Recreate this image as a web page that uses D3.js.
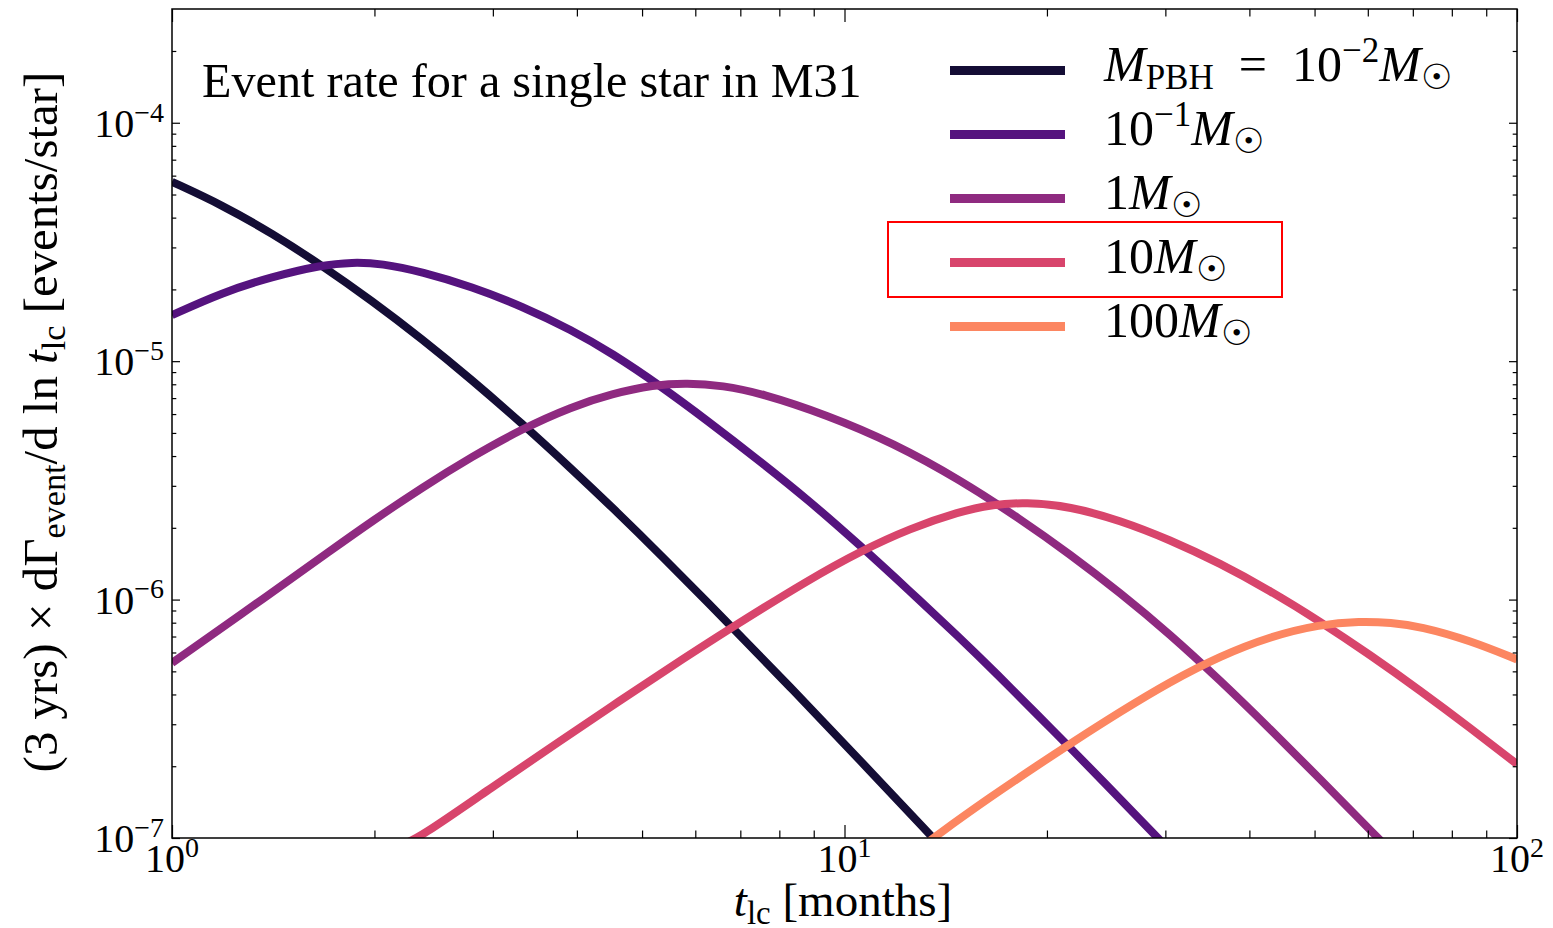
<!DOCTYPE html>
<html>
<head>
<meta charset="utf-8">
<script src="https://cdn.jsdelivr.net/npm/d3@7"></script>
<style>
body { margin: 0; background: #fff; }
svg { display: block; }
text { font-family: "Liberation Serif", "DejaVu Serif", serif; fill: #000; }
</style>
</head>
<body>
<script>

// DATA (t_lc in months, rate in events/star)
var t_m2 = [1, 1.187, 1.408, 1.671, 1.983, 2.353, 2.793, 3.314, 3.933, 4.511, 5.318, 6.83, 8.38, 10.29, 13.54, 14.3];
var r_m2 = [5.65e-5, 4.52e-5, 3.44e-5, 2.52e-5, 1.79e-5, 1.24e-5, 8.34e-6, 5.48e-6, 3.52e-6, 2.44e-6, 1.55e-6, 7.58e-7, 4.18e-7, 2.28e-7, 1.0e-7, 8.5e-8];

var t_m1 = [1, 1.187, 1.408, 1.671, 1.852, 2.05, 2.353, 2.793, 3.314, 3.933, 4.511, 5.318, 6.27, 7.49, 8.83, 10.54, 12.44, 14.85, 16.82, 19.53, 21.64, 25.68, 29.45, 31];
var r_m1 = [1.56e-5, 1.94e-5, 2.26e-5, 2.53e-5, 2.6e-5, 2.57e-5, 2.37e-5, 2.05e-5, 1.70e-5, 1.35e-5, 1.08e-5, 7.9e-6, 5.6e-6, 3.8e-6, 2.62e-6, 1.69e-6, 1.1e-6, 6.9e-7, 4.9e-7, 3.2e-7, 2.4e-7, 1.46e-7, 9.8e-8, 8.4e-8];

var t_0 = [1, 1.408, 1.729, 1.983, 2.353, 2.793, 3.314, 3.933, 4.511, 5.2, 5.83, 6.6, 7.49, 9.42, 11.81, 14.85, 18.24, 21.64, 25.68, 30.48, 36.17, 42.93, 50.94, 62.56, 65];
var r_0 = [5.42e-7, 1.07e-6, 1.62e-6, 2.13e-6, 2.95e-6, 3.98e-6, 5.2e-6, 6.45e-6, 7.3e-6, 7.95e-6, 8.11e-6, 7.9e-6, 7.36e-6, 5.95e-6, 4.54e-6, 3.18e-6, 2.18e-6, 1.55e-6, 1.07e-6, 7.16e-7, 4.59e-7, 2.87e-7, 1.77e-7, 9.8e-8, 8.8e-8];

var t_1 = [2.2, 2.33, 2.96, 3.776, 4.511, 5.318, 6.83, 8.888, 10.54, 12.52, 14.85, 16.5, 18.6, 21.64, 25.68, 30.48, 36.17, 42.93, 50.94, 60.44, 71.75, 85.15, 100];
var r_1 = [9.4e-8, 1.0e-7, 1.6e-7, 2.55e-7, 3.58e-7, 4.88e-7, 7.71e-7, 1.22e-6, 1.59e-6, 1.99e-6, 2.34e-6, 2.5e-6, 2.56e-6, 2.46e-6, 2.15e-6, 1.78e-6, 1.42e-6, 1.09e-6, 8.1e-7, 5.87e-7, 4.16e-7, 2.9e-7, 2.04e-7];

var t_2 = [13.2, 13.54, 16.5, 19.53, 21.64, 25.68, 30.48, 36.17, 42.93, 50.94, 58.42, 65, 71.75, 85.15, 100];
var r_2 = [9.4e-8, 1.0e-7, 1.49e-7, 2.05e-7, 2.48e-7, 3.38e-7, 4.52e-7, 5.79e-7, 7.0e-7, 7.87e-7, 8.1e-7, 8.0e-7, 7.72e-7, 6.74e-7, 5.61e-7];

var seriesT = [t_m2, t_m1, t_0, t_1, t_2];
var seriesR = [r_m2, r_m1, r_0, r_1, r_2];
var colors = ["#140d35", "#55137e", "#8f2a80", "#d8456c", "#fc8661"];

// LEGEND LABELS: [text, italic, position] position 1 = superscript, -1 = subscript
var legendLabels = [
	[["M", 1, 0], ["PBH", 0, -1], ["\u2002=\u200210", 0, 0], ["\u22122", 0, 1], ["M", 1, 0], ["\u2609", 0, -1]],
	[["10", 0, 0], ["\u22121", 0, 1], ["M", 1, 0], ["\u2609", 0, -1]],
	[["1", 0, 0], ["M", 1, 0], ["\u2609", 0, -1]],
	[["10", 0, 0], ["M", 1, 0], ["\u2609", 0, -1]],
	[["100", 0, 0], ["M", 1, 0], ["\u2609", 0, -1]]
];

var titleText = "Event rate for a single star in M31";
var xLabel = [["t", 1, 0], ["lc", 0, -1], ["\u00a0[months]", 0, 0]];
var yLabel = [["(3\u00a0yrs)\u00a0\u00d7\u00a0d\u0393", 0, 0], ["event", 0, -1], ["/d\u00a0ln\u00a0", 0, 0], ["t", 1, 0], ["lc", 0, -1], ["\u00a0[events/star]", 0, 0]];

// TICKS
var xMajor = [1, 10, 100];
var xMinor = [2, 3, 4, 5, 6, 7, 8, 9, 20, 30, 40, 50, 60, 70, 80, 90];
var yMajor = [1e-7, 1e-6, 1e-5, 1e-4];
var yMinor = [];
[1e-7, 1e-6, 1e-5].forEach(function(dec){
	for (var k = 2; k <= 9; k++) yMinor.push(k * dec);
});
yMinor.push(2e-4);

var W = 1553, H = 928;
var L = 172, R = 1517, T = 9, B = 838;

var svg = d3.select("body").append("svg")
	.attr("width", W)
	.attr("height", H);

var x = d3.scaleLog().domain([1, 100]).range([L, R]);
var y = d3.scaleLog().domain([1e-7, 3e-4]).range([B, T]);

svg.append("clipPath").attr("id", "plotclip")
	.append("rect")
	.attr("x", L).attr("y", T)
	.attr("width", R - L).attr("height", B - T);

//DRAW THE CURVES
var line = d3.line()
	.x(function(d){ return x(d.t) })
	.y(function(d){ return y(d.v) })
	.curve(d3.curveBasis);

seriesT.forEach(function(ts, i){
	var pts = ts.map(function(t, j){ return {t: t, v: seriesR[i][j]} });
	svg.append("path")
		.attr("d", line(pts))
		.attr("clip-path", "url(#plotclip)")
		.style("fill", "none")
		.style("stroke", colors[i])
		.style("stroke-width", 8)
		.style("stroke-linejoin", "round");
});

//AXES, TICKS POINT INWARD ON ALL FOUR SIDES
function tickAxis(axis, tx, ty, vals, size){
	var g = svg.append("g")
		.attr("transform", "translate(" + tx + "," + ty + ")")
		.call(axis.tickValues(vals).tickSize(-size).tickFormat(""));
	g.select(".domain").remove();
	g.selectAll("line").style("stroke", "#000").style("stroke-width", 1.2);
}
tickAxis(d3.axisBottom(x), 0, B, xMajor, 13);
tickAxis(d3.axisBottom(x), 0, B, xMinor, 7.5);
tickAxis(d3.axisTop(x), 0, T, xMajor, 13);
tickAxis(d3.axisTop(x), 0, T, xMinor, 7.5);
tickAxis(d3.axisLeft(y), L, 0, yMajor, 8);
tickAxis(d3.axisLeft(y), L, 0, yMinor, 4.3);
tickAxis(d3.axisRight(y), R, 0, yMajor, 8);
tickAxis(d3.axisRight(y), R, 0, yMinor, 4.3);

svg.append("rect")
	.attr("x", L).attr("y", T)
	.attr("width", R - L).attr("height", B - T)
	.style("fill", "none")
	.style("stroke", "#000")
	.style("stroke-width", 1.5);

//MATH-LIKE TEXT WITH SUB/SUPERSCRIPTS
function addMath(txt, segs, fs){
	txt.selectAll("tspan").remove();
	var cur = 0;
	segs.forEach(function(g){
		var target = g[2] == 1 ? -0.38 * fs : (g[2] == -1 ? 0.16 * fs : 0);
		txt.append("tspan")
			.attr("dy", target - cur)
			.style("font-size", (g[2] != 0 ? 0.7 * fs : fs) + "px")
			.style("font-style", g[1] ? "italic" : "normal")
			.text(g[0]);
		cur = target;
	});
}

function fitMath(txt, segs, fs, len){
	addMath(txt, segs, fs);
	var w = txt.node().getComputedTextLength();
	addMath(txt, segs, fs * len / w);
}

function powLabel(v){
	var e = Math.round(Math.log10(v));
	return [["10", 0, 0], [(e < 0 ? "\u2212" + (-e) : "" + e), 0, 1]];
}

xMajor.forEach(function(v){
	addMath(svg.append("text")
		.attr("x", x(v)).attr("y", 872)
		.attr("text-anchor", "middle"), powLabel(v), 40);
});

yMajor.forEach(function(v){
	addMath(svg.append("text")
		.attr("x", 164).attr("y", y(v) + 14)
		.attr("text-anchor", "end"), powLabel(v), 40);
});

addMath(svg.append("text")
	.attr("x", 843).attr("y", 916)
	.attr("text-anchor", "middle"), xLabel, 47);

fitMath(svg.append("text")
	.attr("transform", "translate(57,422) rotate(-90)")
	.attr("text-anchor", "middle"), yLabel, 46, 701);

fitMath(svg.append("text")
	.attr("x", 202).attr("y", 97), [[titleText, 0, 0]], 42, 660);

//LEGEND
legendLabels.forEach(function(lab, i){
	var ly = 70.5 + i * 64;
	svg.append("line")
		.attr("x1", 950).attr("x2", 1065)
		.attr("y1", ly).attr("y2", ly)
		.style("stroke", colors[i])
		.style("stroke-width", 9);
	addMath(svg.append("text")
		.attr("x", 1104).attr("y", ly + 10), lab, 50);
});

// red highlight box round the 10 Msun entry
svg.append("rect")
	.attr("x", 888).attr("y", 222)
	.attr("width", 394).attr("height", 75)
	.style("fill", "none")
	.style("stroke", "#ff0000")
	.style("stroke-width", 2);

</script>
</body>
</html>
